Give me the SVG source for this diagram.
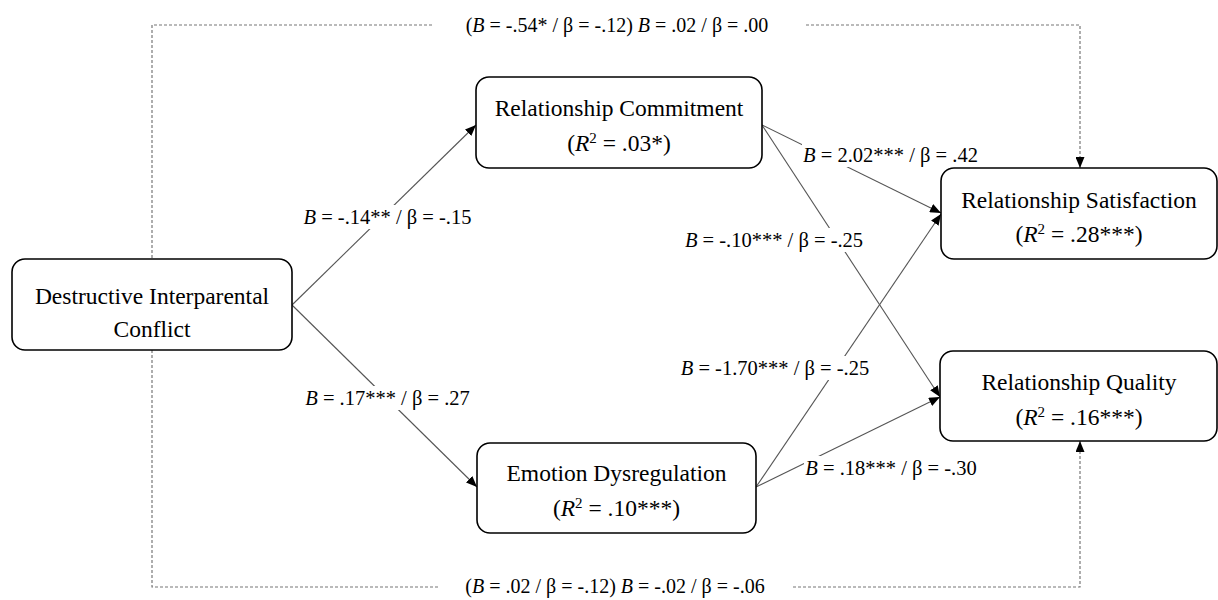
<svg xmlns="http://www.w3.org/2000/svg" width="1218" height="600" viewBox="0 0 1218 600">
<style>
.box{fill:#fff;stroke:#000;stroke-width:1.6}
.nt{font-family:"Liberation Serif","Times New Roman",serif;font-size:23.5px;fill:#000;text-anchor:middle}
.lt{font-family:"Liberation Serif","Times New Roman",serif;font-size:20.5px;fill:#000;text-anchor:middle}
.tt{font-family:"Liberation Serif","Times New Roman",serif;font-size:20px;fill:#000;text-anchor:middle}
.ln{stroke:#555;stroke-width:1.1;fill:none}
.ds{stroke:#777;stroke-width:1.2;fill:none;stroke-dasharray:3 2}
.i{font-style:italic}
.bg{fill:#fff}
</style>
<defs>
<marker id="ah" viewBox="0 0 10 10" refX="10" refY="5" markerWidth="11" markerHeight="9" markerUnits="userSpaceOnUse" orient="auto" preserveAspectRatio="none">
<path d="M0,0 L10,5 L0,10 Z" fill="#000"/>
</marker>
</defs>
<g id="connectors">
<polyline class="ds" points="432,25 152,25 152,259"/>
<polyline class="ds" points="806,25 1080,25 1080,168" marker-end="url(#ah)"/>
<polyline class="ds" points="152,350 152,587 438,587"/>
<polyline class="ds" points="793,587 1080,587 1080,441" marker-end="url(#ah)"/>
<line class="ln" x1="292" y1="305" x2="476" y2="125" marker-end="url(#ah)"/>
<line class="ln" x1="292" y1="305" x2="477" y2="487" marker-end="url(#ah)"/>
<line class="ln" x1="762" y1="125" x2="941" y2="213" marker-end="url(#ah)"/>
<line class="ln" x1="762" y1="125" x2="940" y2="397" marker-end="url(#ah)"/>
<line class="ln" x1="756" y1="487" x2="941" y2="214" marker-end="url(#ah)"/>
<line class="ln" x1="756" y1="487" x2="940" y2="397" marker-end="url(#ah)"/>
<g id="labels">
<rect class="bg" x="300" y="205" width="175" height="24"/>
<text class="lt" x="387.5" y="224"><tspan class="i">B</tspan> = -.14** / β = -.15</text>
<rect class="bg" x="304" y="386" width="167" height="24"/>
<text class="lt" x="387.5" y="405"><tspan class="i">B</tspan> = .17*** / β = .27</text>
<rect class="bg" x="802" y="143" width="177" height="24"/>
<text class="lt" x="890.5" y="162"><tspan class="i">B</tspan> = 2.02*** / β = .42</text>
<rect class="bg" x="682" y="228" width="184" height="24"/>
<text class="lt" x="774" y="247"><tspan class="i">B</tspan> = -.10*** / β = -.25</text>
<rect class="bg" x="680" y="356" width="190" height="24"/>
<text class="lt" x="775" y="375"><tspan class="i">B</tspan> = -1.70*** / β = -.25</text>
<rect class="bg" x="804" y="456" width="174" height="24"/>
<text class="lt" x="891" y="475"><tspan class="i">B</tspan> = .18*** / β = -.30</text>
<text class="tt" x="617" y="32">(<tspan class="i">B</tspan> = -.54* / β = -.12) <tspan class="i">B</tspan> = .02 / β = .00</text>
<text class="tt" x="615" y="593">(<tspan class="i">B</tspan> = .02 / β = -.12) <tspan class="i">B</tspan> = -.02 / β = -.06</text>
</g>
</g>
<g id="dic">
<rect class="box" x="12" y="259" width="280" height="91" rx="13"/>
<text class="nt" x="152" y="304">Destructive Interparental</text>
<text class="nt" x="152" y="337">Conflict</text>
</g>
<g id="rc">
<rect class="box" x="476" y="77" width="286" height="91" rx="13"/>
<text class="nt" x="619" y="116">Relationship Commitment</text>
<text class="nt" x="619" y="151">(<tspan class="i">R</tspan><tspan font-size="15" dy="-8">2</tspan><tspan dy="8"> = .03*)</tspan></text>
</g>
<g id="ed">
<rect class="box" x="477" y="443" width="279" height="90" rx="13"/>
<text class="nt" x="616.5" y="481">Emotion Dysregulation</text>
<text class="nt" x="616.5" y="516">(<tspan class="i">R</tspan><tspan font-size="15" dy="-8">2</tspan><tspan dy="8"> = .10***)</tspan></text>
</g>
<g id="rs">
<rect class="box" x="941" y="168" width="276" height="91" rx="13"/>
<text class="nt" x="1079" y="208">Relationship Satisfaction</text>
<text class="nt" x="1079" y="242">(<tspan class="i">R</tspan><tspan font-size="15" dy="-8">2</tspan><tspan dy="8"> = .28***)</tspan></text>
</g>
<g id="rq">
<rect class="box" x="940" y="351" width="277" height="90" rx="13"/>
<text class="nt" x="1079" y="390">Relationship Quality</text>
<text class="nt" x="1079" y="425">(<tspan class="i">R</tspan><tspan font-size="15" dy="-8">2</tspan><tspan dy="8"> = .16***)</tspan></text>
</g>
</svg>
